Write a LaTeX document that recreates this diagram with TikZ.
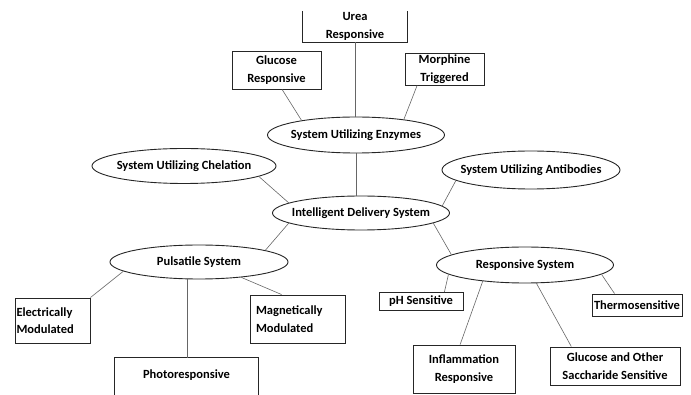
\documentclass[tikz,border=0pt]{standalone}
\usepackage{fontspec}
\setmainfont{Carlito}
\usetikzlibrary{shapes.geometric,calc}
\tikzset{
  fnt/.style={font=\bfseries\fontsize{12.5}{17.5}\selectfont},
  ell/.style={ellipse,draw=black!85,line width=0.9pt,inner sep=0pt},
  ellt/.style={label={[fnt,inner sep=0pt]center:#1}},
  bx/.style={rectangle,draw=black!85,line width=0.9pt,inner sep=0pt,align=center,fnt},
  bxo/.style={rectangle,inner sep=0pt,align=center,fnt},
  lnk/.style={draw=black!60,line width=0.6pt},
  side/.style={draw=black!85,line width=0.9pt}
}
\begin{document}
\begin{tikzpicture}[x=1pt,y=-1pt]
\useasboundingbox (0,0) rectangle (691,395);
% ellipses
\node[ell,minimum width=177pt,minimum height=36pt,ellt={System Utilizing Enzymes}] (enz) at (356,135) {};
\node[ell,minimum width=184pt,minimum height=35pt,ellt={System Utilizing Chelation}] (chel) at (184,166) {};
\node[ell,minimum width=178pt,minimum height=38pt,ellt={System Utilizing Antibodies}] (anti) at (531,170) {};
\node[ell,minimum width=177pt,minimum height=34pt,ellt={Intelligent Delivery System}] (ids) at (361,213) {};
\node[ell,minimum width=178pt,minimum height=34pt,ellt={Pulsatile System}] (puls) at (199,262) {};
\node[ell,minimum width=177pt,minimum height=36pt,ellt={Responsive System}] (resp) at (525,265) {};
% boxes
\node[bxo,minimum width=104pt,minimum height=31pt] (urea) at (355,26.5) {Urea\\Responsive};
\draw[side] (urea.north west) |- (urea.south east) -- (urea.north east);
\node[bx,minimum width=89pt,minimum height=38pt] (gluc) at (276.5,70) {Glucose\\Responsive};
\node[bx,minimum width=79pt,minimum height=32pt] (morph) at (444.5,69) {Morphine\\Triggered};
\node[bx,minimum width=75pt,minimum height=45pt,text width=72pt,align=left] (elec) at (52.5,320.5) {Electrically\\Modulated};
\node[bx,minimum width=95pt,minimum height=48pt,text width=83pt,align=left] (magn) at (297.5,319) {Magnetically\\Modulated};
\node[bxo,minimum width=143pt,minimum height=34pt] (photo) at (186.5,375) {Photoresponsive};
\draw[side] ($(photo.north west)+(0,40)$) |- (photo.north east) -- ++(0,40);
\node[bx,minimum width=84pt,minimum height=18pt] (ph) at (421,301.5) {pH Sensitive};
\node[bx,minimum width=90pt,minimum height=22pt] (thermo) at (637,305) {Thermosensitive};
\node[bx,minimum width=102pt,minimum height=48pt] (infl) at (464,369) {Inflammation\\Responsive};
\node[bx,minimum width=130pt,minimum height=38pt] (gl2) at (615,366) {Glucose and Other\\Saccharide Sensitive};
% connectors
\draw[lnk] (urea.south) -- (urea.south |- enz.north);
\draw[lnk] (gluc.-74) -- (enz.165);
\draw[lnk] (morph.-149) -- (enz.18);
\draw[lnk] (enz.south) -- (enz.south |- ids.north);
\draw[lnk] (chel.-8) -- (ids.172);
\draw[lnk] (anti.188) -- (ids.5);
\draw[lnk] (ids.188) -- (puls.10);
\draw[lnk] (ids.-8) -- (resp.172);
\draw[lnk] (puls.187) -- (elec.north east);
\draw[lnk] (puls.-20) -- (magn.123);
\draw[lnk] (puls.-123) -- (puls.-123 |- photo.north);
\draw[lnk] (resp.-173) -- (ph.22);
\draw[lnk] (resp.-7) -- (thermo.153);
\draw[lnk] (resp.-159) -- (infl.99);
\draw[lnk] (resp.-58) -- (gl2.156);
\end{tikzpicture}
\end{document}
